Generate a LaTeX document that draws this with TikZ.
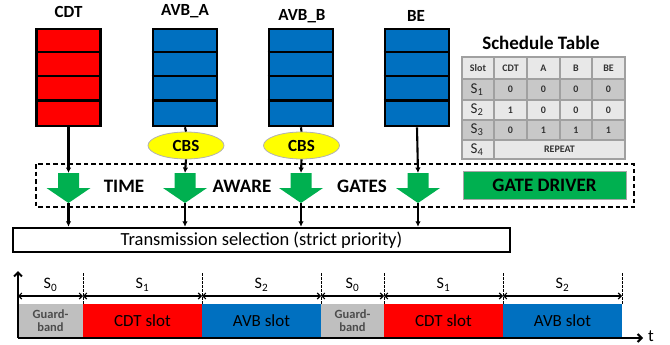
\documentclass[tikz,border=0pt]{standalone}
\usepackage{fontspec}
\setmainfont{Carlito}
\usetikzlibrary{arrows.meta,shapes.geometric}
\definecolor{qred}{RGB}{255,0,0}
\definecolor{qblue}{RGB}{0,112,192}
\definecolor{ggreen}{RGB}{0,176,80}
\definecolor{gyellow}{RGB}{255,255,0}
\definecolor{tlight}{RGB}{232,232,232}
\definecolor{tdark}{RGB}{200,200,200}
\definecolor{tborder}{RGB}{160,160,160}
\definecolor{guardgray}{RGB}{191,191,191}
\newcommand{\fsz}[1]{\fontsize{#1}{#1}\selectfont}
\newcommand{\gatearrow}[2]{%
  \coordinate (#1top) at (#2,173);
  \coordinate (#1tip) at (#2,203);
  \fill[ggreen] (#2-10.5,173) -- (#2+10.5,173) -- (#2+10.5,188) -- (#2+22,188) -- (#1tip) -- (#2-22,188) -- (#2-10.5,188) -- cycle;
}
\newcommand{\qdivs}[1]{%
  \foreach \k in {1,2,3}{\draw[line width=2.4pt] ([yshift=-\k*24.25pt]#1.north west) -- ([yshift=-\k*24.25pt]#1.north east);}
}
\begin{document}
\begin{tikzpicture}[x=1pt,y=-1pt,
  qbox/.style={draw=black, line width=2.6pt, minimum width=64pt, minimum height=97pt, inner sep=0pt},
  qlabel/.style={font=\fsz{17}\bfseries, inner sep=0pt},
  cbs/.style={ellipse, draw=gray!60, line width=0.8pt, fill=gyellow, minimum width=76pt, minimum height=27pt, inner sep=0pt, font=\fsz{17}\bfseries},
  conn/.style={line width=2.1pt, -{Latex[length=5.5pt,width=5.5pt]}},
  plainln/.style={line width=2.1pt},
  gatetext/.style={font=\fsz{19}\bfseries, inner sep=0pt},
  tcell/.style={draw=tborder, line width=1.6pt},
  tsmall/.style={font=\fsz{10}\bfseries, inner sep=0pt, text=black!80},
  tslot/.style={font=\fsz{15}, inner sep=0pt, text=black!85},
  vdash/.style={line width=1pt, dash pattern=on 2.5pt off 1.5pt},
  span/.style={line width=1.1pt, {Straight Barb[length=3pt,width=6pt]}-{Straight Barb[length=3pt,width=6pt]}},
  slotlab/.style={font=\fsz{16}, inner sep=0pt},
  slottext/.style={font=\fsz{17}, inner sep=0pt},
  guardtext/.style={font=\fsz{12.5}\bfseries, inner sep=0pt, align=center, text=black!70}
]
\useasboundingbox (0,0) rectangle (670,345);

% queues
\node[qbox, fill=qred] (qcdt) at (68.5,77.5) {};
\node[qbox, fill=qblue] (qavba) at (185,77.5) {};
\node[qbox, fill=qblue] (qavbb) at (301,77.5) {};
\node[qbox, fill=qblue] (qbe) at (417,77.5) {};
\qdivs{qcdt}\qdivs{qavba}\qdivs{qavbb}\qdivs{qbe}
\node[qlabel] (lcdt) at (68.5,12) {CDT};
\node[qlabel] (lavba) at (185,11) {AVB\_A};
\node[qlabel] (lavbb) at (302,16) {AVB\_B};
\node[qlabel] (lbe) at (416,16) {BE};

% CBS
\node[cbs] (cbsa) at (186,145.5) {CBS};
\node[cbs] (cbsb) at (301.5,145.5) {CBS};

% dashed gate box
\draw[line width=1.6pt, dash pattern=on 4.5pt off 3pt] (36,164) rectangle (634,207);
\gatearrow{ga}{68.5}
\gatearrow{gb}{185}
\gatearrow{gc}{301}
\gatearrow{gd}{418}
\node[gatetext] (ttime) at (124,186) {TIME};
\node[gatetext] (taware) at (242,186) {AWARE};
\node[gatetext] (tgates) at (362,186) {GATES};
\node[draw=gray!70, line width=0.8pt, fill=ggreen, minimum width=163pt, minimum height=28pt, inner sep=0pt, font=\fsz{19}\bfseries] (gdrv) at (544.5,185) {GATE DRIVER};

% connectors
\draw[conn] (qcdt.south) -- (gatop);
\draw[plainln] (qavba.south) -- (cbsa.north);
\draw[conn] (cbsa.south) -- (gbtop);
\draw[plainln] (qavbb.south) -- (cbsb.north);
\draw[conn] (cbsb.south) -- (gctop);
\draw[conn] (qbe.south) -- (gdtop);

% transmission selection
\node[draw=black, line width=2.4pt, fill=white, minimum width=497pt, minimum height=24pt, inner sep=0pt, font=\fsz{18.5}] (tsel) at (261.5,240) {Transmission selection (strict priority)};
\draw[conn] (gatip) -- (gatip |- tsel.north);
\draw[conn] (gbtip) -- (gbtip |- tsel.north);
\draw[conn] (gctip) -- (gctip |- tsel.north);
\draw[conn] (gdtip) -- (gdtip |- tsel.north);

% schedule table
\node[font=\fsz{19}\bfseries, inner sep=0pt] (sttitle) at (541,43) {Schedule Table};
\fill[tlight] (462,57) rectangle (625,79);
\fill[tdark] (462,79) rectangle (625,100);
\fill[tlight] (462,100) rectangle (625,120);
\fill[tdark] (462,120) rectangle (625,140);
\fill[tlight] (462,140) rectangle (625,159);
\draw[tcell] (462,57) rectangle (625,159);
\foreach \yy in {79,100,120,140} \draw[tcell] (462,\yy) -- (625,\yy);
\draw[tcell] (494,57) -- (494,159);
\foreach \xx in {527,560,592} \draw[tcell] (\xx,57) -- (\xx,140);
\node[tsmall] (h0) at (478,68) {Slot};
\node[tsmall] (h1) at (510.5,68) {CDT};
\node[tsmall] (h2) at (543.5,68) {A};
\node[tsmall] (h3) at (576,68) {B};
\node[tsmall] (h4) at (608.5,68) {BE};
\node[tslot] (r1) at (477,89.5) {S\textsubscript{1}};
\node[tslot] (r2) at (477,110) {S\textsubscript{2}};
\node[tslot] (r3) at (477,130) {S\textsubscript{3}};
\node[tslot] (r4) at (477,149.5) {S\textsubscript{4}};
\foreach \xx/\a/\b/\c in {510.5/0/1/0, 543.5/0/0/1, 576/0/0/1, 608.5/0/0/1}{
  \node[tsmall] at (\xx,89.5) {\a};
  \node[tsmall] at (\xx,110) {\b};
  \node[tsmall] at (\xx,130) {\c};
}
\node[tsmall] (rep) at (559.5,149.5) {REPEAT};

% timeline
\coordinate (o) at (18,338);
\coordinate (ytop) at (18,271);
\coordinate (tend) at (643,338);
\node[draw=none, fill=guardgray, minimum width=65pt, minimum height=33pt, inner sep=0pt, guardtext] (g1) at (50.5,320.5) {Guard-\\[1pt]band};
\node[fill=qred, minimum width=119pt, minimum height=33pt, inner sep=0pt, slottext] (c1) at (142.5,320.5) {CDT slot};
\node[fill=qblue, minimum width=119pt, minimum height=33pt, inner sep=0pt, slottext] (a1) at (261.5,320.5) {AVB slot};
\node[fill=guardgray, minimum width=63pt, minimum height=33pt, inner sep=0pt, guardtext] (g2) at (352.5,320.5) {Guard-\\[1pt]band};
\node[fill=qred, minimum width=119pt, minimum height=33pt, inner sep=0pt, slottext] (c2) at (443.5,320.5) {CDT slot};
\node[fill=qblue, minimum width=119pt, minimum height=33pt, inner sep=0pt, slottext] (a2) at (562.5,320.5) {AVB slot};
\draw[line width=2pt, -{Straight Barb[length=4pt,width=8pt]}] (o) -- (ytop);
\draw[line width=2pt, -{Straight Barb[length=4pt,width=8pt]}] (o) -- (tend);
\node[font=\fsz{17}, inner sep=0pt] (tlab) at (651,336) {t};
\foreach \xx in {83,202,321,384,503,622} \draw[vdash] (\xx,273) -- (\xx,304);
\foreach \xa/\xb/\n in {18/83/0, 83/202/1, 202/321/2, 321/384/0, 384/503/1, 503/622/2}{
  \draw[span] (\xa,296) -- (\xb,296);
  \node[slotlab] at ({(\xa+\xb)/2},285) {S\textsubscript{\n}};
}
\end{tikzpicture}
\end{document}
